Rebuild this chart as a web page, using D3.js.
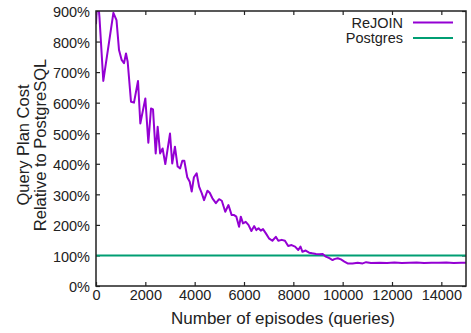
<!DOCTYPE html>
<html>
<head>
<meta charset="utf-8">
<script src="https://cdn.jsdelivr.net/npm/d3@7"></script>
<style>
  html, body { margin: 0; padding: 0; background: #fff; }
  svg { display: block; font-family: "Liberation Sans", Arial, Helvetica, sans-serif; }
</style>
</head>
<body>
<svg id="chart" width="471" height="333"></svg>
<script>
// ---- Data ----
const episodes = [0, 60, 140, 296, 705, 831, 933, 1040, 1135, 1216, 1284, 1419, 1540, 1703, 1797, 2000, 2122, 2230, 2311, 2420, 2500, 2600, 2700, 2810, 3000, 3090, 3200, 3310, 3410, 3500, 3580, 3700, 3800, 3880, 3970, 4080, 4180, 4290, 4380, 4520, 4610, 4720, 4860, 4990, 5100, 5240, 5370, 5500, 5600, 5690, 5800, 5870, 5960, 6070, 6180, 6300, 6410, 6500, 6590, 6680, 6770, 6880, 7010, 7150, 7290, 7390, 7530, 7660, 7790, 7930, 8070, 8200, 8290, 8370, 8500, 8640, 8770, 8920, 9050, 9190, 9320, 9460, 9590, 9660, 9800, 9930, 10070, 10200, 10400, 10610, 10810, 10950, 11150, 11500, 11800, 12100, 12400, 12700, 13000, 13300, 13600, 13900, 14200, 14500, 14800, 15000];
const rejoinCost = [857, 960, 880, 671, 894, 870, 772, 740, 729, 761, 734, 603, 600, 671, 532, 614, 469, 581, 578, 434, 521, 434, 450, 399, 499, 401, 456, 391, 385, 410, 410, 356, 341, 309, 356, 369, 325, 303, 281, 312, 305, 287, 271, 284, 279, 243, 265, 232, 232, 227, 194, 227, 205, 210, 200, 180, 196, 183, 189, 181, 186, 173, 156, 148, 161, 148, 151, 148, 131, 134, 129, 118, 129, 112, 116, 109, 107, 105, 104, 105, 96, 91, 85, 88, 91, 87, 80, 74, 74, 76, 74, 78, 75, 76, 75, 77, 75, 76, 77, 75, 76, 76, 77, 75, 76, 76];
const postgresCost = 100;
const xTicks = [0, 2000, 4000, 6000, 8000, 10000, 12000, 14000];
const yTicks = [0, 100, 200, 300, 400, 500, 600, 700, 800, 900];
const seriesNames = ["ReJOIN", "Postgres"];
const seriesColors = ["#9400d3", "#009e73"];

// ---- Layout ----
const svg = d3.select("#chart");
const margin = { left: 96, top: 11, right: 5, bottom: 47 };
const W = 471, H = 333;
const x = d3.scaleLinear().domain([0, 15000]).range([margin.left, W - margin.right]);
const y = d3.scaleLinear().domain([0, 900]).range([H - margin.bottom, margin.top]);

svg.append("defs").append("clipPath").attr("id", "clip")
  .append("rect")
  .attr("x", x(0)).attr("y", y(900))
  .attr("width", x(15000) - x(0)).attr("height", y(0) - y(900));

const tickLen = 4;
const tickFont = 14.5;
// Axes (gnuplot style: inward ticks, mirrored)
const fmtPct = d => d + "%";
const bottomAxis = svg.append("g").attr("transform", `translate(0,${y(0)})`)
  .call(d3.axisBottom(x).tickValues(xTicks).tickSize(-tickLen).tickPadding(4).tickFormat(d3.format("d")));
const topAxis = svg.append("g").attr("transform", `translate(0,${y(900)})`)
  .call(d3.axisTop(x).tickValues(xTicks).tickSize(-tickLen).tickFormat(""));
const leftAxis = svg.append("g").attr("transform", `translate(${x(0)},0)`)
  .call(d3.axisLeft(y).tickValues(yTicks).tickSize(-tickLen).tickPadding(6).tickFormat(fmtPct));
const rightAxis = svg.append("g").attr("transform", `translate(${x(15000)},0)`)
  .call(d3.axisRight(y).tickValues(yTicks).tickSize(-tickLen).tickFormat(""));

[bottomAxis, topAxis, leftAxis, rightAxis].forEach(g => {
  g.select(".domain").remove();
  g.selectAll(".tick line").attr("stroke", "#222").attr("stroke-width", 1.2);
  g.selectAll("text").attr("font-size", tickFont).attr("fill", "#222")
    .attr("font-family", "'Liberation Sans', Arial, sans-serif");
});
bottomAxis.selectAll("text").attr("dy", "0.71em");
leftAxis.selectAll("text").attr("dy", "0.4em");

// Series
const pts = episodes.map((e, i) => [e, rejoinCost[i]]);
const line = d3.line().x(d => x(d[0])).y(d => y(d[1]));

svg.append("line")
  .attr("x1", x(0)).attr("x2", x(15000))
  .attr("y1", y(postgresCost)).attr("y2", y(postgresCost))
  .attr("stroke", seriesColors[1]).attr("stroke-width", 2);

svg.append("path").datum(pts)
  .attr("clip-path", "url(#clip)")
  .attr("d", line)
  .attr("fill", "none")
  .attr("stroke", seriesColors[0])
  .attr("stroke-width", 2)
  .attr("stroke-linejoin", "round");

// Frame
svg.append("rect")
  .attr("x", x(0)).attr("y", y(900))
  .attr("width", x(15000) - x(0)).attr("height", y(0) - y(900))
  .attr("fill", "none").attr("stroke", "#222").attr("stroke-width", 1.5);

// Legend
const legend = svg.append("g");
seriesNames.forEach((name, i) => {
  const ly = 22.5 + i * 15.5;
  legend.append("text")
    .attr("x", 403).attr("y", ly).attr("dy", "0.36em")
    .attr("text-anchor", "end").attr("font-size", tickFont).attr("fill", "#222")
    .text(name);
  legend.append("line")
    .attr("x1", 413).attr("x2", 453).attr("y1", ly).attr("y2", ly)
    .attr("stroke", seriesColors[i]).attr("stroke-width", 2);
});

// Axis titles
svg.append("text")
  .attr("x", 283).attr("y", 323.5)
  .attr("text-anchor", "middle").attr("font-size", 17).attr("fill", "#222")
  .text("Number of episodes (queries)");

const yt = svg.append("text")
  .attr("transform", `translate(0,145) rotate(-90)`)
  .attr("text-anchor", "middle").attr("font-size", 16.5).attr("fill", "#222");
yt.append("tspan").attr("x", 0).attr("y", 29).text("Query Plan Cost");
yt.append("tspan").attr("x", 0).attr("y", 46).text("Relative to PostgreSQL");
</script>
</body>
</html>
